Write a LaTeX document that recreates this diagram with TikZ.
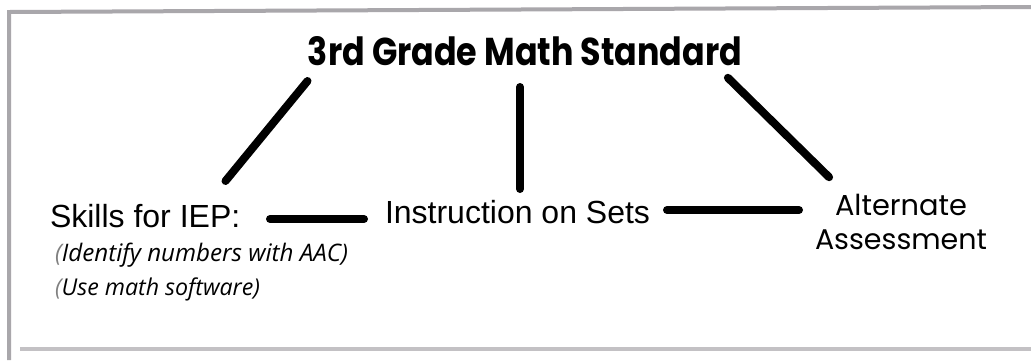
\documentclass[tikz,border=0pt]{standalone}
\usepackage{fontspec}
\setmainfont{Liberation Sans}
\newfontfamily\titlef{Poppins}
\newfontfamily\geof{Poppins}
\newfontfamily\itf{Open Sans}
\usetikzlibrary{calc}
\definecolor{framegray}{HTML}{A9A7AB}
\tikzset{
  conn/.style={line width=8pt, line cap=round, black},
  frameline/.style={line width=4pt, framegray},
  lbl/.style={inner sep=0pt, outer sep=0pt, text=black},
  big/.style={font=\fontsize{32}{38}\selectfont},
}
\begin{document}
\begin{tikzpicture}[x=1pt,y=-1pt]
\useasboundingbox (0,0) rectangle (1031,360);
\fill[white] (0,0) rectangle (1031,360);
% frame
\draw[frameline] (9,360) -- (9,12) -- (1031,7);
\draw[frameline, framegray!70] (20,349) -- (1031,349);
% nodes
\node[lbl, anchor=base] (title) at (525,65)
  {\resizebox{434pt}{29pt}{\titlef\bfseries 3rd Grade Math Standard}};
\node[lbl, big, anchor=base west] (skills) at (50,227) {Skills for IEP:};
\node[lbl, anchor=base west] (id1) at (55,261)
  {\resizebox{293pt}{!}{\itf\itshape\textcolor{gray}{(}Identify numbers with AAC)}};
\node[lbl, anchor=base west] (id2) at (55,295)
  {\resizebox{205pt}{!}{\itf\itshape\textcolor{gray}{(}Use math software)}};
\node[lbl, big, anchor=base west] (instr) at (385,223) {Instruction on Sets};
\node[lbl, align=center, font=\fontsize{24}{34}\selectfont\geof] (alt) at (901,222)
  {\resizebox{132pt}{!}{Alternate}\\\resizebox{172pt}{!}{Assessment}};
% connectors
\draw[conn] ($(title.base)+(-217.5,16)$) -- ($(skills.base west)+(175.5,-46)$);
\draw[conn] ($(title.base)+(-5,22)$) -- ($(instr.base west)+(135,-34)$);
\draw[conn] ($(title.base)+(202.9,12.8)$) -- ($(alt.center)+(-71.9,-44.8)$);
\draw[conn] ($(skills.base west)+(220,-8)$) -- ($(instr.base west)+(-21,-4)$);
\draw[conn] ($(instr.base west)+(282,-13)$) -- ($(alt.center)+(-102,-12)$);
\end{tikzpicture}
\end{document}
